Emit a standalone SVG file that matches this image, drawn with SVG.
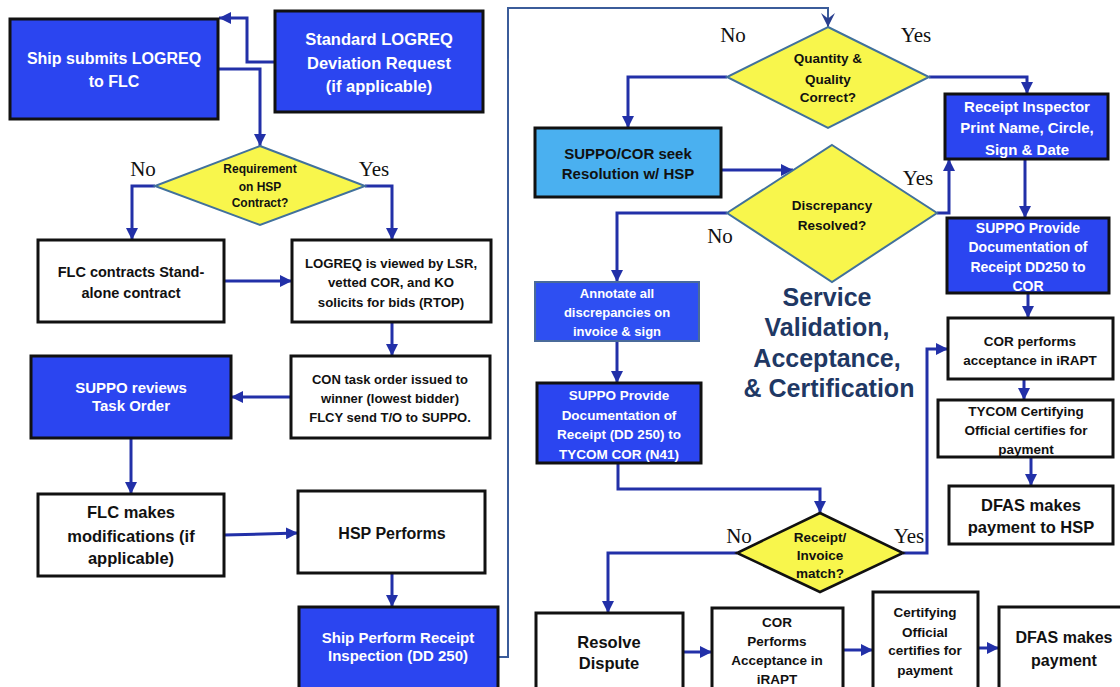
<svg xmlns="http://www.w3.org/2000/svg" width="1120" height="687" viewBox="0 0 1120 687">
<style>
.bg{fill:#ffffff}
.db{fill:#2b45f0;stroke:#111111;stroke-width:3}
.lb{fill:#4ab0f0;stroke:#111111;stroke-width:3}
.wb{fill:#ffffff;stroke:#111111;stroke-width:3}
.an{fill:#2e4ff2;stroke:#4a6b9a;stroke-width:2}
.dy{fill:#f8f64c;stroke:#41719c;stroke-width:2}
.dk{fill:#f8f64c;stroke:#111111;stroke-width:2.5}
text{font-family:"Liberation Sans",Arial,sans-serif;font-weight:bold;text-anchor:middle}
.w{fill:#ffffff}
.k{fill:#111111}
.lab{font-family:"Liberation Serif","Times New Roman",serif;font-weight:normal;font-size:21px;fill:#111111}
.title{font-size:25px;fill:#1f3864}
.c{fill:none;stroke:#2230a8;stroke-width:3}
.loop{fill:none;stroke:#3b5c9a;stroke-width:2}
</style>
<defs>
<marker id="ah" markerUnits="userSpaceOnUse" markerWidth="12" markerHeight="12" refX="10" refY="5" orient="auto" viewBox="0 0 10 10">
<path d="M0,0 L10,5 L0,10 z" fill="#2230a8"/>
</marker>
<marker id="ah2" markerUnits="userSpaceOnUse" markerWidth="14" markerHeight="14" refX="10" refY="5" orient="auto" viewBox="0 0 10 10">
<path d="M0,0 L10,5 L0,10 L4,5 z" fill="#2a3f8f"/>
</marker>
</defs>
<rect class="bg" x="0" y="0" width="1120" height="687"/>

<g id="connectors">
<path class="c" d="M275,62 H247 V18 H219" marker-end="url(#ah)"/>
<path class="c" d="M218,69 H260 V146" marker-end="url(#ah)"/>
<path class="c" d="M155,186 H132 V240" marker-end="url(#ah)"/>
<path class="c" d="M365,186 H392 V240" marker-end="url(#ah)"/>
<path class="c" d="M224,281 H292" marker-end="url(#ah)"/>
<path class="c" d="M392,322 V356" marker-end="url(#ah)"/>
<path class="c" d="M291,397 H231" marker-end="url(#ah)"/>
<path class="c" d="M131,438 V494" marker-end="url(#ah)"/>
<path class="c" d="M224,535 L298,533" marker-end="url(#ah)"/>
<path class="c" d="M392,573 V607" marker-end="url(#ah)"/>
<path class="loop" d="M498,657 H508 V8 H828 V27" marker-end="url(#ah2)"/>
<path class="c" d="M727,77 H628 V128" marker-end="url(#ah)"/>
<path class="c" d="M929,77 H1027 V94" marker-end="url(#ah)"/>
<path class="c" d="M721,170 H793" marker-end="url(#ah)"/>
<path class="c" d="M727,213 H617 V282" marker-end="url(#ah)"/>
<path class="c" d="M937,213 H949 V159" marker-end="url(#ah)"/>
<path class="c" d="M1025,159 V218" marker-end="url(#ah)"/>
<path class="c" d="M1028,293 V318" marker-end="url(#ah)"/>
<path class="c" d="M1024,379 V400" marker-end="url(#ah)"/>
<path class="c" d="M1031,457 V486" marker-end="url(#ah)"/>
<path class="c" d="M617,341 V383" marker-end="url(#ah)"/>
<path class="c" d="M618,463 V489 H820 V513" marker-end="url(#ah)"/>
<path class="c" d="M903,553 H927 V349 H948" marker-end="url(#ah)"/>
<path class="c" d="M737,553 H608 V613" marker-end="url(#ah)"/>
<path class="c" d="M683,652 H712" marker-end="url(#ah)"/>
<path class="c" d="M843,650 H873" marker-end="url(#ah)"/>
<path class="c" d="M978,648 H999" marker-end="url(#ah)"/>
</g>

<g id="labels">
<text class="lab" x="143" y="176">No</text>
<text class="lab" x="374" y="176">Yes</text>
<text class="lab" x="733" y="42">No</text>
<text class="lab" x="916" y="42">Yes</text>
<text class="lab" x="720" y="243">No</text>
<text class="lab" x="918" y="185">Yes</text>
<text class="lab" x="739" y="543">No</text>
<text class="lab" x="909" y="543">Yes</text>
</g>

<g id="ship-submits">
<rect class="db" x="10" y="19" width="208" height="100"/>
<text class="w" font-size="16" x="114" y="64">Ship submits LOGREQ</text>
<text class="w" font-size="16" x="114" y="87">to FLC</text>
</g>

<g id="standard-logreq">
<rect class="db" x="275" y="11" width="208" height="101"/>
<text class="w" font-size="16.5" x="379" y="45">Standard LOGREQ</text>
<text class="w" font-size="16.5" x="379" y="69">Deviation Request</text>
<text class="w" font-size="16.5" x="379" y="92">(if applicable)</text>
</g>

<g id="requirement-decision">
<polygon class="dy" points="260,146 365,186 260,225 155,186"/>
<text class="k" font-size="12" x="260" y="173">Requirement</text>
<text class="k" font-size="12" x="260" y="191">on HSP</text>
<text class="k" font-size="12" x="260" y="207">Contract?</text>
</g>

<g id="flc-contracts">
<rect class="wb" x="38" y="240" width="186" height="82"/>
<text class="k" font-size="14.5" x="131" y="277">FLC contracts Stand-</text>
<text class="k" font-size="14.5" x="131" y="298">alone contract</text>
</g>

<g id="logreq-viewed">
<rect class="wb" x="292" y="240" width="199" height="82"/>
<text class="k" font-size="13.2" x="391" y="268">LOGREQ is viewed by LSR,</text>
<text class="k" font-size="13.2" x="391" y="287">vetted COR, and KO</text>
<text class="k" font-size="13.2" x="391" y="307">solicits for bids (RTOP)</text>
</g>

<g id="con-task-order">
<rect class="wb" x="291" y="356" width="199" height="82"/>
<text class="k" font-size="13" x="390" y="384">CON task order issued to</text>
<text class="k" font-size="13" x="390" y="403">winner (lowest bidder)</text>
<text class="k" font-size="13" x="390" y="422">FLCY send T/O to SUPPO.</text>
</g>

<g id="suppo-reviews">
<rect class="db" x="31" y="356" width="200" height="82"/>
<text class="w" font-size="15" x="131" y="393">SUPPO reviews</text>
<text class="w" font-size="15" x="131" y="411">Task Order</text>
</g>

<g id="flc-makes">
<rect class="wb" x="38" y="494" width="186" height="82"/>
<text class="k" font-size="16.5" x="131" y="518">FLC makes</text>
<text class="k" font-size="16.5" x="131" y="542">modifications (if</text>
<text class="k" font-size="16.5" x="131" y="564">applicable)</text>
</g>

<g id="hsp-performs">
<rect class="wb" x="298" y="491" width="187" height="82"/>
<text class="k" font-size="16" x="392" y="539">HSP Performs</text>
</g>

<g id="ship-perform-receipt">
<rect class="db" x="299" y="607" width="199" height="100"/>
<text class="w" font-size="15" x="398" y="643">Ship Perform Receipt</text>
<text class="w" font-size="15" x="398" y="661">Inspection (DD 250)</text>
</g>

<g id="quantity-decision">
<polygon class="dy" points="828,27 929,77 828,128 727,77"/>
<text class="k" font-size="13.5" x="828" y="63">Quantity &amp;</text>
<text class="k" font-size="13.5" x="828" y="84">Quality</text>
<text class="k" font-size="13.5" x="828" y="102">Correct?</text>
</g>

<g id="suppo-cor-seek">
<rect class="lb" x="535" y="128" width="186" height="69"/>
<text class="k" font-size="15" x="628" y="159">SUPPO/COR seek</text>
<text class="k" font-size="15" x="628" y="179">Resolution w/ HSP</text>
</g>

<g id="discrepancy-decision">
<polygon class="dy" points="832,145 937,213 832,282 727,213"/>
<text class="k" font-size="13.5" x="832" y="210">Discrepancy</text>
<text class="k" font-size="13.5" x="832" y="230">Resolved?</text>
</g>

<g id="receipt-inspector">
<rect class="db" x="945" y="94" width="163" height="65"/>
<text class="w" font-size="15" x="1027" y="112">Receipt Inspector</text>
<text class="w" font-size="15" x="1027" y="133">Print Name, Circle,</text>
<text class="w" font-size="15" x="1027" y="155">Sign &amp; Date</text>
</g>

<g id="suppo-provide-dd250">
<rect class="db" x="947" y="218" width="162" height="75"/>
<text class="w" font-size="14" x="1028" y="233">SUPPO Provide</text>
<text class="w" font-size="14" x="1028" y="252">Documentation of</text>
<text class="w" font-size="14" x="1028" y="272">Receipt DD250 to</text>
<text class="w" font-size="14" x="1028" y="291">COR</text>
</g>

<g id="cor-performs-irapt">
<rect class="wb" x="948" y="318" width="165" height="61"/>
<text class="k" font-size="13.5" x="1030" y="346">COR performs</text>
<text class="k" font-size="13.5" x="1030" y="365">acceptance in iRAPT</text>
</g>

<g id="tycom-certifying">
<rect class="wb" x="938" y="400" width="175" height="57"/>
<text class="k" font-size="13.5" x="1026" y="416">TYCOM Certifying</text>
<text class="k" font-size="13.5" x="1026" y="435">Official certifies  for</text>
<text class="k" font-size="13.5" x="1026" y="454">payment</text>
</g>

<g id="dfas-hsp">
<rect class="wb" x="949" y="486" width="164" height="58"/>
<text class="k" font-size="16.5" x="1031" y="511">DFAS makes</text>
<text class="k" font-size="16.5" x="1031" y="533">payment to HSP</text>
</g>

<g id="annotate">
<rect class="an" x="535" y="282" width="164" height="59"/>
<text class="w" font-size="13" x="617" y="298">Annotate all</text>
<text class="w" font-size="13" x="617" y="317">discrepancies on</text>
<text class="w" font-size="13" x="617" y="336">invoice &amp; sign</text>
</g>

<g id="suppo-provide-n41">
<rect class="db" x="537" y="383" width="164" height="80"/>
<text class="w" font-size="13.5" x="619" y="400">SUPPO Provide</text>
<text class="w" font-size="13.5" x="619" y="420">Documentation of</text>
<text class="w" font-size="13.5" x="619" y="439">Receipt (DD 250) to</text>
<text class="w" font-size="13.5" x="619" y="459">TYCOM COR (N41)</text>
</g>

<g id="receipt-invoice-decision">
<polygon class="dk" points="820,513 903,553 820,592 737,553"/>
<text class="k" font-size="13.5" x="820" y="542">Receipt/</text>
<text class="k" font-size="13.5" x="820" y="560">Invoice</text>
<text class="k" font-size="13.5" x="820" y="578">match?</text>
</g>

<g id="resolve-dispute">
<rect class="wb" x="536" y="613" width="147" height="90"/>
<text class="k" font-size="16.5" x="609" y="648">Resolve</text>
<text class="k" font-size="16.5" x="609" y="669">Dispute</text>
</g>

<g id="cor-performs-acceptance">
<rect class="wb" x="712" y="608" width="131" height="95"/>
<text class="k" font-size="13.5" x="777" y="627">COR</text>
<text class="k" font-size="13.5" x="777" y="646">Performs</text>
<text class="k" font-size="13.5" x="777" y="665">Acceptance in</text>
<text class="k" font-size="13.5" x="777" y="684">iRAPT</text>
</g>

<g id="certifying-official">
<rect class="wb" x="873" y="592" width="105" height="111"/>
<text class="k" font-size="13.5" x="925" y="617">Certifying</text>
<text class="k" font-size="13.5" x="925" y="637">Official</text>
<text class="k" font-size="13.5" x="925" y="655">certifies for</text>
<text class="k" font-size="13.5" x="925" y="675">payment</text>
</g>

<g id="dfas-payment">
<rect class="wb" x="999" y="607" width="130" height="96"/>
<text class="k" font-size="16" x="1064" y="643">DFAS makes</text>
<text class="k" font-size="16" x="1064" y="666">payment</text>
</g>

<g id="title">
<text class="title" x="827" y="306">Service</text>
<text class="title" x="827" y="336">Validation,</text>
<text class="title" x="827" y="367">Acceptance,</text>
<text class="title" x="829" y="397">&amp; Certification</text>
</g>
</svg>
